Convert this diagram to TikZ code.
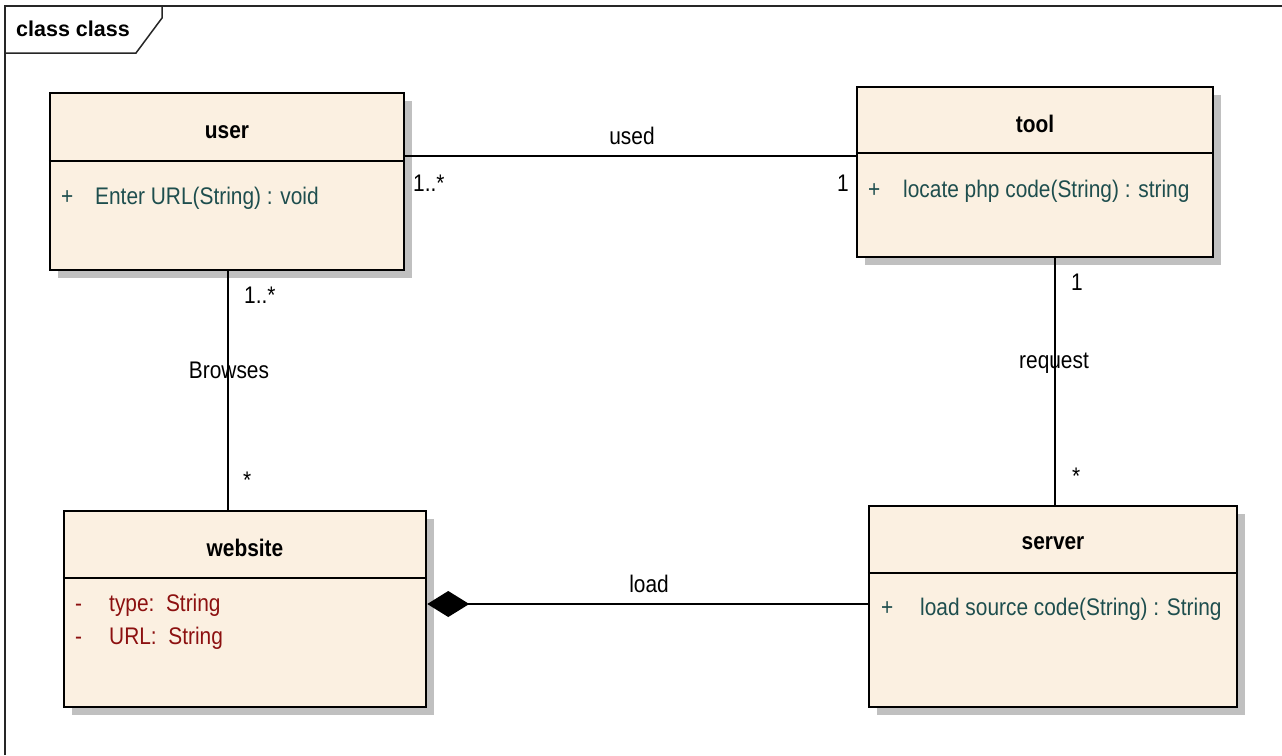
\documentclass[tikz,border=0pt]{standalone}
\usepackage{fontspec}
\setmainfont{Liberation Sans}[FakeStretch=0.87]
\newfontfamily\framefont{Liberation Sans}
\usetikzlibrary{arrows.meta,shadows}

\definecolor{classfill}{RGB}{251,240,225}
\definecolor{shadowgray}{RGB}{192,192,192}
\definecolor{optext}{RGB}{30,78,78}
\definecolor{attrtext}{RGB}{140,16,16}

\tikzset{
  classbox/.style={rectangle, draw=black, line width=2.5pt, fill=classfill, inner sep=0pt,
    drop shadow={shadow xshift=8pt, shadow yshift=-8pt, fill=shadowgray, opacity=1}},
  divider/.style={draw=black, line width=2pt},
  titletext/.style={font=\fontsize{24}{29}\selectfont\bfseries, anchor=base, inner sep=0pt},
  optxt/.style={font=\fontsize{24}{29}\selectfont, text=optext, anchor=base west, inner sep=0pt},
  attrtxt/.style={font=\fontsize{24}{29}\selectfont, text=attrtext, anchor=base west, inner sep=0pt},
  assoclabel/.style={font=\fontsize{24}{29}\selectfont, inner sep=0pt},
  assoc/.style={draw=black, line width=2pt},
  frameline/.style={draw=black!85, line width=1.5pt},
}

\begin{document}
\begin{tikzpicture}[x=1pt, y=-1pt]
\useasboundingbox (0,0) rectangle (1282,755);
\fill[white] (0,0) rectangle (1282,755);

% diagram frame and its name tab
\draw[frameline] (5,755) -- (5,6) -- (1282,6);
\draw[frameline] (5,53) -- (136,53) -- (162,18) -- (162,6);
\node[anchor=base west, inner sep=0pt, font=\framefont\bfseries\fontsize{21.5}{25}\selectfont] (framelabel) at (16,36) {class class};

% class boxes
\node[classbox, minimum width=354pt, minimum height=177pt] (user) at (227,181.5) {};
\node[classbox, minimum width=356pt, minimum height=170pt] (tool) at (1035,172) {};
\node[classbox, minimum width=362pt, minimum height=196pt] (website) at (245,609) {};
\node[classbox, minimum width=368pt, minimum height=201pt] (server) at (1053,606.5) {};

% compartment dividers
\draw[divider] (user.west |- 0,161) -- (user.east |- 0,161);
\draw[divider] (tool.west |- 0,153) -- (tool.east |- 0,153);
\draw[divider] (website.west |- 0,578) -- (website.east |- 0,578);
\draw[divider] (server.west |- 0,573) -- (server.east |- 0,573);

% class names
\node[titletext] (usertitle) at (227,138) {user};
\node[titletext] (tooltitle) at (1035,132) {tool};
\node[titletext] (websitetitle) at (245,556) {website};
\node[titletext] (servertitle) at (1053,549) {server};

% operations and attributes
\node[optxt] (userplus) at (61,204) {+};
\node[optxt] (userop) at (95,204) {Enter URL(String) : void};
\node[optxt] (toolplus) at (868,197) {+};
\node[optxt] (toolop) at (903,197) {locate php code(String) : string};
\node[optxt] (serverplus) at (881,615) {+};
\node[optxt] (serverop) at (920,615) {load source code(String) : String};
\node[attrtxt] (typeminus) at (75,611) {-};
\node[attrtxt] (typeattr) at (109,611) {type:\ \ String};
\node[attrtxt] (urlminus) at (75,644) {-};
\node[attrtxt] (urlattr) at (109,644) {URL:\ \ String};

% associations
\draw[assoc] (user.east |- 0,156) -- (tool.west |- 0,156);
\draw[assoc] (user.south -| 228,0) -- (website.north -| 228,0);
\draw[assoc] (tool.south -| 1055,0) -- (server.north -| 1055,0);
\draw[assoc, -{Diamond[length=42pt, width=26pt]}] (server.west |- 0,604) -- (website.east |- 0,604);

% association names and multiplicities
\node[assoclabel, anchor=base] (usedlbl) at (632,144) {used};
\node[assoclabel, anchor=base west] (usedsrc) at (413,191) {1..*};
\node[assoclabel, anchor=base east] (usedtgt) at (849,191) {1};
\node[assoclabel, anchor=base west] (browsesrc) at (244,303) {1..*};
\node[assoclabel, anchor=base] (browseslbl) at (229,378) {Browses};
\node[assoclabel, anchor=base west] (browsetgt) at (243,488) {*};
\node[assoclabel, anchor=base west] (requestsrc) at (1071,290) {1};
\node[assoclabel, anchor=base] (requestlbl) at (1054,368) {request};
\node[assoclabel, anchor=base west] (requesttgt) at (1072,484) {*};
\node[assoclabel, anchor=base] (loadlbl) at (649,592) {load};
\end{tikzpicture}
\end{document}
